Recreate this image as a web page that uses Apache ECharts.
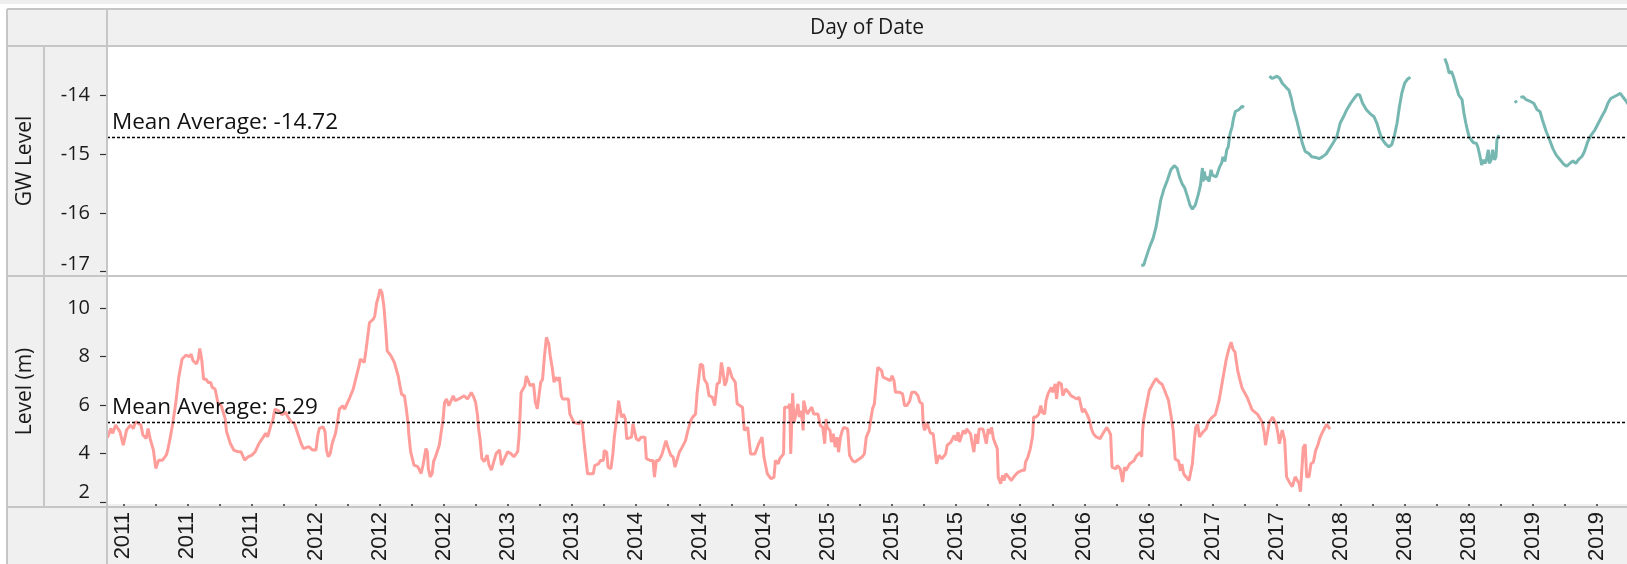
<!DOCTYPE html>
<html>
<head>
<meta charset="utf-8">
<script src="https://cdn.jsdelivr.net/npm/echarts@6/dist/echarts.min.js"></script>
<style>
  html, body { margin: 0; padding: 0; background: #ffffff; }
  #chart { width: 1627px; height: 564px; }
</style>
</head>
<body>
<div id="chart"></div>
<script>
// Day axis: days counted from 1 Jan 2011
const axisStartDate = '2011-01-01';
const axisEndDate = '2019-09-15';

// Labelled ticks on the "Day of Date" axis (shown as the year)
const tickDates = [
  '2011-02-04', '2011-06-18', '2011-10-30', '2012-03-12', '2012-07-24', '2012-12-05',
  '2013-04-18', '2013-08-30', '2014-01-11', '2014-05-25', '2014-10-06', '2015-02-17',
  '2015-07-01', '2015-11-12', '2016-03-25', '2016-08-06', '2016-12-18', '2017-05-01',
  '2017-09-12', '2018-01-24', '2018-06-07', '2018-10-19', '2019-03-02', '2019-07-14'
];

// Reference line values
const gwMean = -14.72;
const levelMean = 5.29;

// River level, Level (m): day offset and value
const levelDay = [
  1, 4, 8, 12, 18, 27, 34, 38, 41, 49, 55, 60, 64, 71, 75, 82, 86, 90, 97, 102, 108, 116, 124, 127, 132, 138,
  144, 150, 157, 165, 172, 176, 180, 183, 187, 191, 194, 198, 202, 207, 212, 217, 220, 226, 232, 239,
  247, 250, 258, 265, 273, 280, 288, 295, 303, 310, 318, 325, 332, 336, 344, 347, 351, 358, 366, 374, 377,
  385, 392, 400, 406, 411, 422, 430, 437, 441, 444, 452, 456, 459, 463, 467, 471, 478, 482, 486, 493, 497,
  508, 515, 519, 527, 530, 538, 542, 545, 549, 557, 560, 564, 568, 571, 575, 579, 583, 586, 594, 601, 605,
  609, 612, 616, 622, 626, 630, 631, 635, 642, 650, 657, 661, 667, 670, 672, 676, 680, 683, 687, 695, 700,
  703, 706, 710, 715, 719, 724, 728, 736, 739, 747, 754, 762, 767, 771, 775, 777, 780, 784, 789, 795, 799,
  804, 809, 814, 818, 821, 825, 833, 838, 844, 851, 859, 862, 866, 874, 877, 885, 892, 896, 900, 904, 907,
  911, 915, 919, 924, 927, 931, 935, 938, 942, 946, 950, 953, 965, 968, 976, 979, 987, 991, 994, 998, 1002,
  1005, 1017, 1020, 1028, 1032, 1038, 1040, 1045, 1048, 1054, 1058, 1061, 1065, 1067, 1070, 1073, 1076,
  1080, 1084, 1087, 1091, 1097, 1100, 1104, 1107, 1112, 1117, 1125, 1128, 1136, 1142, 1145, 1149, 1154,
  1160, 1164, 1169, 1173, 1179, 1184, 1188, 1192, 1197, 1203, 1210, 1214, 1218, 1221, 1225, 1231, 1234,
  1238, 1241, 1246, 1249, 1255, 1259, 1266, 1271, 1276, 1281, 1285, 1288, 1292, 1296, 1300, 1303, 1307,
  1314, 1318, 1322, 1329, 1333, 1337, 1340, 1344, 1346, 1355, 1359, 1363, 1370, 1374, 1381, 1389, 1395,
  1398, 1404, 1407, 1411, 1415, 1417, 1420, 1425, 1428, 1430, 1434, 1437, 1441, 1445, 1448, 1452, 1456,
  1457, 1462, 1465, 1469, 1474, 1478, 1482, 1487, 1492, 1497, 1501, 1504, 1506, 1512, 1515, 1519, 1523,
  1527, 1530, 1534, 1538, 1541, 1545, 1549, 1553, 1559, 1564, 1571, 1579, 1584, 1588, 1594, 1597, 1601,
  1605, 1608, 1612, 1616, 1620, 1623, 1631, 1638, 1642, 1646, 1649, 1657, 1664, 1668, 1673, 1679, 1683,
  1690, 1696, 1700, 1705, 1707, 1710, 1715, 1718, 1722, 1728, 1731, 1735, 1740, 1746, 1750, 1754, 1757,
  1765, 1772, 1776, 1780, 1783, 1791, 1795, 1798, 1806, 1809, 1813, 1817, 1821, 1824, 1832, 1835, 1839,
  1843, 1847, 1850, 1854, 1862, 1864, 1869, 1873, 1876, 1880, 1886, 1891, 1899, 1906, 1914, 1919, 1921,
  1926, 1931, 1936, 1938, 1943, 1949, 1953, 1956, 1961, 1964, 1968, 1971, 1975, 1978, 1983, 1986, 1990,
  1996, 1999, 2005, 2011, 2016, 2022, 2028, 2033, 2036, 2040, 2044, 2048, 2051, 2055, 2059, 2063, 2069,
  2077, 2084, 2091, 2095, 2099, 2102, 2110, 2113, 2119, 2124, 2128, 2131, 2139, 2142, 2148, 2153, 2161,
  2164, 2166, 2168, 2172, 2180, 2188, 2194, 2200, 2207, 2214, 2220, 2226, 2230, 2234, 2241, 2245, 2248,
  2252, 2255, 2263, 2266, 2270, 2274, 2277, 2281, 2285, 2292, 2299, 2303, 2310, 2318, 2326, 2333, 2341,
  2346, 2351, 2355, 2359, 2365, 2370, 2374, 2385, 2395, 2407, 2416, 2420, 2423, 2427, 2431, 2438, 2445,
  2449, 2452, 2458, 2463, 2467, 2474, 2479, 2485, 2489, 2493, 2496, 2500, 2502, 2506, 2509, 2514, 2518,
  2523, 2528, 2533, 2536, 2540, 2544, 2547, 2551, 2555, 2558
];
const levelValue = [
  4.65, 4.62, 5.03, 4.83, 5.17, 4.9, 4.34, 4.28, 4.97, 5.17, 5.03, 5.31, 5.38, 5.17, 4.76, 4.62, 5.03, 4.62, 4.14, 3.38, 3.72, 3.72, 3.93, 4.14, 4.62, 5.31,
  6.11, 7.14, 7.9, 8.06, 8.0, 8.1, 7.83, 7.9, 7.7, 7.9, 8.34, 7.9, 7.07, 7.07, 6.93, 6.93, 6.73, 6.66, 6.1, 5.97,
  5.45, 4.9, 4.41, 4.14, 4.07, 4.07, 3.72, 3.86, 3.93, 4.07, 4.41, 4.62, 4.83, 4.69, 5.24, 5.38, 5.83, 5.77, 5.6, 5.7, 5.55,
  5.31, 5.24, 4.76, 4.41, 4.2, 4.28, 4.14, 4.14, 4.76, 5.03, 5.1, 4.9, 4.14, 3.86, 4.0, 4.41, 4.83, 5.31, 5.83, 5.97, 5.83,
  6.32, 6.66, 6.59, 7.62, 7.9, 7.76, 8.31, 8.38, 9.41, 9.55, 9.68, 10.23, 10.5, 10.78, 10.65, 10.1, 9.13, 8.24, 8.03, 7.76, 7.48,
  7.2, 6.87, 6.45, 6.38, 5.84, 5.17, 4.83, 4.07, 3.52, 3.45, 3.17, 3.52, 4.2, 4.07, 3.38, 3.03, 3.17, 3.66, 3.86, 4.34, 5.03,
  5.45, 6.1, 6.25, 5.97, 6.04, 6.38, 6.18, 6.25, 6.32, 6.38, 6.25, 6.52, 6.32, 6.1, 5.56, 5.03, 4.62, 3.79, 3.66, 3.93, 3.52,
  3.31, 3.66, 4.0, 3.93, 4.14, 3.52, 3.86, 4.07, 4.0, 3.86, 4.07, 4.76, 6.52, 6.8, 7.2, 6.8, 6.87, 6.1, 5.84, 5.84, 6.93,
  7.07, 8.03, 8.8, 8.52, 8.04, 7.56, 6.94, 7.15, 7.01, 7.15, 6.39, 6.25, 6.25, 5.63, 5.29, 5.22, 5.22, 5.36, 5.22, 4.4, 4.33,
  3.16, 3.16, 3.5, 3.57, 3.71, 3.71, 4.12, 4.05, 3.43, 3.37, 3.98, 4.67, 4.67, 5.63, 6.18, 6.11, 5.5,
  5.63, 5.43, 4.6, 4.53, 4.67, 5.22, 5.22, 4.6, 4.53, 4.67, 4.67, 3.78, 3.71, 3.71, 3.02, 3.71, 3.71,
  3.92, 4.19, 4.53, 4.26, 3.92, 3.85, 3.43, 3.71, 4.05, 4.26, 4.53, 4.88, 4.95, 5.36, 5.5, 5.63, 6.46,
  7.15, 7.7, 7.63, 7.08, 6.87, 6.39, 6.32, 5.98, 6.87, 6.94, 7.76, 7.42, 6.8, 7.01, 7.56, 7.42, 7.15,
  6.94, 6.05, 5.98, 5.91, 4.95, 4.88, 5.08, 5.08, 3.98, 3.98, 4.05, 4.4, 4.67, 3.85, 3.16, 2.95, 3.02,
  3.71, 3.57, 3.78, 3.85, 3.98, 5.91, 5.98, 5.91, 6.05, 3.98, 6.49, 5.29, 5.63, 6.05, 5.5, 5.77, 4.95,
  6.18, 5.77, 5.63, 5.77, 5.91, 5.63, 5.56, 5.63, 5.15, 5.08, 4.4, 5.43, 5.08, 4.95, 4.47, 4.81, 4.26,
  4.67, 4.05, 4.67, 4.95, 5.08, 5.08, 5.01, 3.92, 3.71, 3.64, 3.74, 3.85, 3.98, 4.67, 4.95, 5.36, 5.84,
  6.05, 6.73, 7.56, 7.56, 7.42, 7.15, 7.08, 7.01, 7.21, 7.01, 6.53, 6.53, 6.46, 5.98, 5.98, 6.18, 6.53,
  6.53, 6.39, 6.12, 6.05, 5.22, 4.95, 5.29, 5.08, 4.84, 4.81, 4.74, 3.57, 3.92, 3.78, 3.85, 3.98, 4.33,
  4.47, 4.74, 4.53, 4.88, 4.47, 4.95, 4.81, 5.01, 4.81, 4.47, 4.05, 4.81, 4.4, 5.01, 5.01, 4.95, 4.4,
  5.01, 4.81, 5.08, 4.6, 4.19, 3.02, 2.75, 3.09, 2.88, 3.16, 3.02, 2.88, 3.09, 3.23, 3.3, 3.3, 3.64,
  3.85, 4.19, 4.74, 5.5, 5.5, 5.63, 5.98, 5.7, 5.63, 6.18, 6.46, 6.39, 6.73, 6.53, 6.87, 6.25, 6.94,
  6.87, 6.39, 6.66, 6.53, 6.39, 6.32, 6.25, 6.32, 6.25, 5.7, 5.84, 5.91, 5.56, 5.36, 5.01, 4.81, 4.68,
  4.61, 4.86, 5.07, 4.94, 4.78, 3.43, 3.36, 3.5, 3.36, 2.82, 3.43, 3.29, 3.57, 3.5, 3.7, 3.9, 4.04,
  3.86, 4.96, 5.37, 5.8, 6.6, 6.9, 7.1, 6.95, 6.85, 6.5, 6.2, 5.48, 4.92, 3.76, 3.69, 3.28, 3.56,
  3.15, 3.22, 2.88, 2.82, 3.57, 4.52, 5.07, 5.2, 4.68, 4.88, 5.02, 5.29, 5.47, 5.6, 6.2, 7.0, 7.9,
  8.3, 8.6, 8.3, 8.2, 7.4, 7.0, 6.7, 6.3, 5.8, 5.6, 5.29, 4.88, 4.34, 4.82, 5.29, 5.5, 5.22,
  4.82, 4.4, 4.96, 4.55, 3.03, 2.77, 2.63, 3.03, 2.96, 2.77, 2.42, 2.42, 4.25, 4.38, 3.03, 3.03, 3.57,
  3.64, 4.13, 4.38, 4.59, 4.79, 4.86, 5.07, 5.2, 5.13, 5.0
];

// Groundwater, GW Level: day offset and value (null marks a break in the record)
const gwDay = [
  2163, 2168, 2174, 2181, 2188, 2194, 2199, 2204, 2210, 2218, 2225, 2232, 2238, 2243, 2248, 2254, 2260,
  2265, 2270, 2276, 2282, 2287, 2291, 2292, 2295, 2298, 2301, 2305, 2309, 2312, 2316, 2320, 2323, 2327,
  2331, 2334, 2338, 2342, 2345, 2349, 2353, 2356, 2360, 2364, 2367, 2371, 2374, 2378,
  2400,
  2431, 2437, 2442, 2447, 2453, 2458, 2466, 2472, 2477, 2482, 2488, 2495, 2500, 2506, 2513, 2520, 2528,
  2535, 2542, 2550, 2557, 2564, 2572, 2579, 2586, 2593, 2601, 2608, 2615, 2620, 2626, 2634, 2642, 2650,
  2656, 2661, 2666, 2674, 2681, 2687, 2692, 2698, 2703, 2708, 2714, 2720, 2726,
  2760,
  2798, 2803, 2807, 2812, 2816, 2822, 2827, 2834, 2838, 2842, 2845, 2849, 2853, 2858, 2864, 2867, 2871,
  2875, 2878, 2882, 2885, 2889, 2891, 2895, 2898, 2902, 2905, 2907, 2911,
  2925,
  2944, 2949,
  2952,
  2956, 2962, 2968, 2977, 2984, 2991, 2997, 3002, 3010, 3017, 3024, 3031, 3039, 3046, 3053, 3061, 3066,
  3072, 3077, 3085, 3090, 3097, 3104, 3112, 3119, 3126, 3134, 3139, 3145, 3152, 3159, 3165, 3170, 3175,
  3180, 3186
];
const gwValue = [
  -16.89, -16.89, -16.74, -16.57, -16.43, -16.24, -16.01, -15.78, -15.61, -15.44, -15.27, -15.2, -15.24, -15.39, -15.5, -15.58, -15.73,
  -15.87, -15.94, -15.87, -15.7, -15.53, -15.24, -15.47, -15.3, -15.44, -15.39, -15.47, -15.27, -15.36, -15.36, -15.39, -15.36, -15.22,
  -15.16, -15.05, -15.13, -14.93, -14.88, -14.65, -14.54, -14.4, -14.28, -14.31, -14.25, -14.22, -14.19, -14.21,
  null,
  -13.68, -13.72, -13.7, -13.68, -13.72, -13.8, -13.87, -13.92, -14.06, -14.25, -14.42, -14.65, -14.82, -14.96, -14.99, -15.05, -15.06,
  -15.08, -15.05, -15.0, -14.91, -14.82, -14.71, -14.48, -14.37, -14.25, -14.14, -14.06, -13.99, -14.0, -14.14, -14.25, -14.32, -14.37,
  -14.48, -14.62, -14.74, -14.83, -14.88, -14.84, -14.71, -14.48, -14.2, -13.97, -13.8, -13.73, -13.7,
  null,
  -13.38, -13.49, -13.63, -13.6, -13.69, -13.86, -14.0, -14.08, -14.31, -14.48, -14.59, -14.71, -14.76, -14.81, -14.82, -14.88, -15.02,
  -15.19, -15.1, -15.16, -15.1, -14.93, -15.16, -15.1, -14.93, -15.1, -15.05, -14.76, -14.68,
  null,
  -14.13, -14.1,
  null,
  -14.04, -14.03, -14.08, -14.11, -14.14, -14.25, -14.28, -14.42, -14.62, -14.76, -14.91, -15.02, -15.1, -15.17, -15.21, -15.15, -15.12,
  -15.16, -15.1, -15.04, -14.96, -14.79, -14.68, -14.59, -14.48, -14.37, -14.25, -14.14, -14.06, -14.03, -14.0, -13.97, -14.03, -14.08,
  -14.14, -14.2
];

// Value ticks on the two rows
const gwTicks = [-17, -16, -15, -14];
const levelTicks = [2, 4, 6, 8, 10];

const DAY_MS = 86400000;
const baseMs = Date.parse(axisStartDate + 'T00:00:00Z');
const toDay = s => Math.round((Date.parse(s + 'T00:00:00Z') - baseMs) / DAY_MS);
const yearOf = d => new Date(baseMs + d * DAY_MS).getUTCFullYear();

const majorTicks = tickDates.map(toDay);
const minorTicks = [];
for (let i = 0; i < majorTicks.length - 1; i++) {
  minorTicks.push((majorTicks[i] + majorTicks[i + 1]) / 2);
}
const allTicks = majorTicks.concat(minorTicks).sort((a, b) => a - b);
const xMax = toDay(axisEndDate);

const zip = (xs, ys) => xs.map((x, i) => [x, ys[i]]);

const PLOT_LEFT = 107;
const PLOT_RIGHT_EDGE = 1627;
const ROW1_TOP = 46, ROW1_BOTTOM = 276, ROW2_BOTTOM = 507;
const BORDER = '#c6c6c6';
const PANEL_BG = '#f0f0f0';
const TEXT = '#1a1a1a';
const UI_FONT = '"Open Sans", "Noto Sans", sans-serif';

function yAxisCfg(gridIndex, min, max, ticks, lowPad) {
  return {
    gridIndex, type: 'value', min, max,
    axisLine: { show: false },
    splitLine: { show: false },
    axisTick: { show: true, customValues: ticks, length: 7, lineStyle: { color: '#333', width: 1.2 } },
    axisLabel: {
      customValues: ticks, margin: 17, color: TEXT, fontSize: 20, fontFamily: UI_FONT,
      formatter: v => (v === ticks[0] ? '{low|' + v + '}' : String(v)),
      rich: { low: { padding: [0, 0, lowPad, 0], color: TEXT, fontSize: 20, fontFamily: UI_FONT } }
    }
  };
}

function meanLine(value) {
  return {
    silent: true,
    symbol: 'none',
    data: [{ yAxis: value }],
    lineStyle: { color: '#000', type: [3, 2], width: 1.3 },
    label: {
      position: 'insideStartTop',
      formatter: 'Mean Average: ' + value,
      color: '#111', fontSize: 22.5, fontFamily: UI_FONT, distance: [5, 3]
    }
  };
}

const hLine = y => ({ type: 'line', shape: { x1: 7, y1: y, x2: PLOT_RIGHT_EDGE, y2: y }, style: { stroke: BORDER, lineWidth: 2 }, z: 50 });
const vLine = (x, y1, y2) => ({ type: 'line', shape: { x1: x, y1, x2: x, y2 }, style: { stroke: BORDER, lineWidth: 2 }, z: 50 });

const chart = echarts.init(document.getElementById('chart'), null, { renderer: 'canvas' });
chart.setOption({
  animation: false,
  backgroundColor: '#ffffff',
  grid: [
    { left: PLOT_LEFT, top: ROW1_TOP, width: PLOT_RIGHT_EDGE - PLOT_LEFT, height: ROW1_BOTTOM - ROW1_TOP,
      show: true, backgroundColor: '#ffffff', borderWidth: 0 },
    { left: PLOT_LEFT, top: ROW1_BOTTOM, width: PLOT_RIGHT_EDGE - PLOT_LEFT, height: ROW2_BOTTOM - ROW1_BOTTOM,
      show: true, backgroundColor: '#ffffff', borderWidth: 0 }
  ],
  xAxis: [
    { gridIndex: 0, type: 'value', min: 0, max: xMax, show: false, splitLine: { show: false } },
    {
      gridIndex: 1, type: 'value', min: 0, max: xMax,
      axisLine: { show: false },
      splitLine: { show: false },
      axisTick: { show: true, customValues: allTicks, length: 4, lineStyle: { color: '#333', width: 1.5 } },
      axisLabel: {
        customValues: majorTicks, rotate: 90, margin: 8,
        color: TEXT, fontSize: 22, fontFamily: '"Liberation Sans", Arial, sans-serif',
        formatter: v => String(yearOf(v))
      }
    }
  ],
  yAxis: [
    yAxisCfg(0, -17.073, -13.168, gwTicks, 14),
    yAxisCfg(1, 1.906, 11.334, levelTicks, 18)
  ],
  series: [
    {
      name: 'GW Level', type: 'line', xAxisIndex: 0, yAxisIndex: 0,
      data: zip(gwDay, gwValue), showSymbol: false, connectNulls: false,
      lineStyle: { color: '#76b7b2', width: 3 }, itemStyle: { color: '#76b7b2' },
      markLine: meanLine(gwMean)
    },
    {
      name: 'Level (m)', type: 'line', xAxisIndex: 1, yAxisIndex: 1,
      data: zip(levelDay, levelValue), showSymbol: false,
      lineStyle: { color: '#ff9d9a', width: 3 }, itemStyle: { color: '#ff9d9a' },
      markLine: meanLine(levelMean)
    }
  ],
  graphic: [
    { type: 'rect', shape: { x: 0, y: 0, width: 1627, height: 4 }, style: { fill: '#eeeeee' }, z: -10 },
    { type: 'rect', shape: { x: 7, y: 9, width: 1620, height: 555 }, style: { fill: PANEL_BG }, z: -10 },
    hLine(9), hLine(ROW1_TOP), hLine(ROW1_BOTTOM), hLine(ROW2_BOTTOM),
    vLine(7, 9, 564), vLine(44, ROW1_TOP, ROW2_BOTTOM), vLine(PLOT_LEFT, 9, 564),
    { type: 'text', x: (PLOT_LEFT + PLOT_RIGHT_EDGE) / 2, y: 28, z: 60,
      style: { text: 'Day of Date', align: 'center', verticalAlign: 'middle', fill: TEXT, fontSize: 21, fontFamily: UI_FONT } },
    { type: 'text', x: 25.5, y: (ROW1_TOP + ROW1_BOTTOM) / 2, rotation: Math.PI / 2, z: 60,
      style: { text: 'GW Level', align: 'center', verticalAlign: 'middle', fill: TEXT, fontSize: 21, fontFamily: UI_FONT } },
    { type: 'text', x: 25.5, y: (ROW1_BOTTOM + ROW2_BOTTOM) / 2, rotation: Math.PI / 2, z: 60,
      style: { text: 'Level (m)', align: 'center', verticalAlign: 'middle', fill: TEXT, fontSize: 21, fontFamily: UI_FONT } }
  ]
});
</script>
</body>
</html>
